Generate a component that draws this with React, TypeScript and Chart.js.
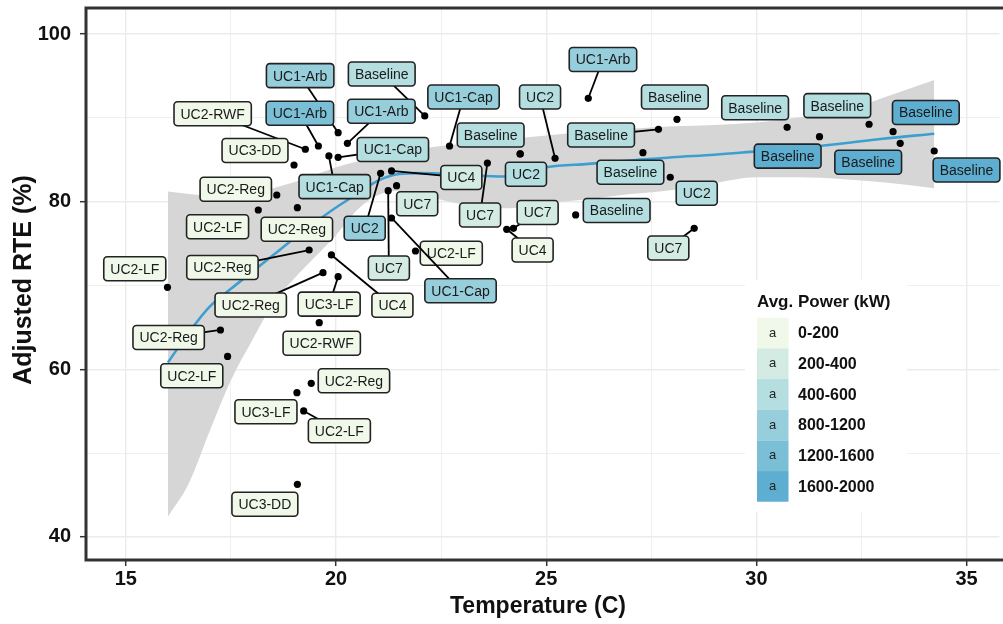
import React, { useEffect, useRef } from "react";
import { Chart, registerables } from "chart.js";

Chart.register(...registerables);

const FONT = "'Liberation Sans', Arial, Helvetica, sans-serif";

// ---------- data ----------
const useCase = [
  "Baseline", "UC1-Arb", "UC1-Arb", "UC1-Arb", "UC2-RWF", "UC3-DD", "UC1-Cap", "UC1-Cap",
  "UC1-Cap", "UC2", "UC4", "UC7", "UC7", "UC2-LF", "UC1-Cap", "UC2-Reg",
  "UC2-LF", "UC2-Reg", "UC2-Reg", "UC4", "UC2-Reg", "UC3-LF", "UC2-RWF", "UC2-Reg",
  "UC2-LF", "UC2-LF", "UC2-Reg", "UC3-LF", "UC2-LF", "UC3-DD", "Baseline", "UC2",
  "UC2", "UC1-Arb", "Baseline", "Baseline", "Baseline", "UC2", "UC7", "Baseline",
  "UC7", "UC4", "UC7", "Baseline", "Baseline", "Baseline", "Baseline", "Baseline", "Baseline",
];
const temperature = [
  22.11, 20.05, 20.27, 19.58, 19.27, 19.0, 19.83, 20.05,
  22.7, 21.06, 21.32, 21.44, 21.24, 21.89, 21.32, 18.59,
  18.15, 19.08, 19.36, 19.89, 19.69, 20.05, 19.6, 17.25,
  17.42, 15.99, 19.41, 19.07, 19.23, 19.08, 24.38, 24.38,
  25.21, 26.0, 28.11, 27.67, 27.3, 27.95, 23.6, 25.7,
  24.22, 24.06, 28.52, 30.73, 31.5, 32.68, 33.25, 33.42, 34.23,
];
const adjustedRte = [
  90.22, 88.23, 86.96, 86.64, 86.25, 84.37, 85.45, 85.29,
  86.64, 83.38, 83.66, 81.9, 81.31, 74.11, 78.05, 80.79,
  79.0, 79.28, 74.23, 73.64, 71.53, 71.05, 65.56, 64.69,
  61.53, 69.78, 58.33, 57.21, 55.03, 46.28, 85.69, 85.69,
  85.17, 92.33, 89.82, 88.63, 85.84, 82.91, 84.61, 78.41,
  76.82, 76.7, 76.82, 88.87, 87.75, 89.23, 88.35, 86.96, 86.04,
];
// index into powerClasses
const powerClass = [
  2, 3, 3, 4, 0, 0, 2, 2,
  3, 3, 1, 1, 1, 0, 3, 0,
  0, 0, 0, 0, 0, 0, 0, 0,
  0, 0, 0, 0, 0, 0, 2, 2,
  2, 3, 2, 2, 2, 2, 1, 2,
  1, 0, 1, 2, 5, 2, 5, 5, 5,
];
const powerClasses = ["0-200", "200-400", "400-600", "800-1200", "1200-1600", "1600-2000"];

// loess fit and confidence band
const smoothTemp = [16.0, 16.5, 17.0, 17.5, 18.0, 18.5, 19.0, 19.5, 20.0, 20.5, 21.0, 21.5, 22.0, 23.0, 24.0, 24.5, 25.0, 26.0, 27.0, 28.0, 29.0, 30.0, 31.0, 32.0, 33.0, 34.23];
const smoothFit = [60.8, 64.4, 67.5, 69.6, 71.6, 73.6, 75.6, 77.5, 79.3, 80.9, 82.5, 83.3, 83.4, 83.2, 83.0, 83.5, 84.1, 84.5, 84.9, 85.3, 85.6, 86.0, 86.4, 86.9, 87.5, 88.1];
const bandUpper = [81.2, 80.9, 80.7, 80.6, 80.9, 81.6, 82.3, 83.2, 84.1, 84.8, 85.4, 85.9, 86.3, 86.9, 87.4, 87.65, 87.9, 88.3, 88.7, 89.0, 89.15, 89.45, 90.05, 90.7, 92.35, 94.5];
const bandLower = [42.4, 46.4, 52.7, 58.7, 63.4, 67.8, 70.8, 73.4, 76.0, 79.0, 80.8, 81.3, 80.8, 79.7, 79.2, 79.4, 79.8, 80.3, 80.9, 81.4, 82.2, 82.9, 82.9, 82.7, 82.3, 81.6];

const yTicksShown = [40, 60, 80, 100];
const xTicksShown = [15, 20, 25, 30, 35];

// ---------- style / layout (label placement in px, relative to its point) ----------
const classColors = ["#f0f8e9", "#d3ebe2", "#b4dee0", "#97cedb", "#7bbfd6", "#5daed1"];
const labelNudge: [number, number, boolean][] = [
  [-43, -42, true], [-38, -57, true], [34, -32, true], [-18.5, -32.7, true], [-92.7, -35.5, true], [-39, -14.5, false], [5.8, 30.7, true], [54.7, -7.8, true],
  [14, -49, true], [-15.9, 55, true], [69.8, 6.5, true], [20.6, 18, false], [0.7, 77.3, true], [35.8, 2.3, false], [69, 72.8, true], [-41, -5.8, false],
  [-40.7, 16.7, false], [-0.5, 21.5, false], [-86.7, 17.5, true], [61, 50.3, true], [-72.3, 32.3, true], [-9, 27.5, true], [2.5, 20.6, false], [-51.8, 7.5, true],
  [-35.8, 19.3, false], [-32.7, -18.6, false], [42.7, -2.5, false], [-31, 19, false], [35.7, 19.8, true], [-32.5, 19.9, false], [-29.5, -19, false], [5.8, 20.3, false],
  [-15, -61.3, true], [14.7, -38.8, true], [-2.1, -22.3, false], [-57.4, 5.7, true], [-12.5, 19.5, false], [26.5, 16, false], [-7.3, 52, true], [41, -4.5, false],
  [24.2, -15.8, true], [25.9, 20.7, true], [-25.9, 19.7, true], [-32, -19.5, false], [-31.8, 19.5, false], [-31.8, -18.6, false], [32.8, -19.2, false], [-32, 18.9, false], [32.3, 19, false],
];

const isMultiple = (v: number, m: number) => Math.abs(v / m - Math.round(v / m)) < 1e-6;

const overlayPlugin = {
  id: "overlay",
  afterDatasetsDraw(chart: any) {
    const { ctx, chartArea: ca } = chart;
    const xs = chart.scales.x;
    const ys = chart.scales.y;
    ctx.save();
    // panel border
    ctx.strokeStyle = "#333333";
    ctx.lineWidth = 3;
    ctx.strokeRect(ca.left, ca.top, ca.right - ca.left + 6, ca.bottom - ca.top);

    // repelled labels
    ctx.font = `14px ${FONT}`;
    for (let i = 0; i < useCase.length; i++) {
      const px = xs.getPixelForValue(temperature[i]);
      const py = ys.getPixelForValue(adjustedRte[i]);
      const [dx, dy, seg] = labelNudge[i];
      const cx = px + dx;
      const cy = py + dy;
      const w = ctx.measureText(useCase[i]).width + 13;
      const h = 24;
      if (seg) {
        ctx.beginPath();
        ctx.strokeStyle = "#000";
        ctx.lineWidth = 1.8;
        ctx.moveTo(px, py);
        ctx.lineTo(cx, cy);
        ctx.stroke();
      }
      ctx.beginPath();
      ctx.roundRect(cx - w / 2, cy - h / 2, w, h, 3.5);
      ctx.fillStyle = classColors[powerClass[i]];
      ctx.fill();
      ctx.lineWidth = 1.6;
      ctx.strokeStyle = "#222";
      ctx.stroke();
      ctx.fillStyle = "#1a1a1a";
      ctx.textAlign = "center";
      ctx.textBaseline = "middle";
      ctx.fillText(useCase[i], cx, cy + 1);
    }

    // legend
    const lx = 745, ly = 280;
    ctx.fillStyle = "#ffffff";
    ctx.fillRect(lx, ly, 162, 232);
    ctx.fillStyle = "#111";
    ctx.textAlign = "left";
    ctx.textBaseline = "alphabetic";
    ctx.font = `bold 17px ${FONT}`;
    ctx.fillText("Avg. Power (kW)", 757, 307);
    const keyTop = 317.7, keyH = 30.67;
    for (let k = 0; k < powerClasses.length; k++) {
      const ky = keyTop + k * keyH;
      ctx.fillStyle = classColors[k];
      ctx.fillRect(757, ky, 31.5, keyH);
      ctx.fillStyle = "#222";
      ctx.font = `13px ${FONT}`;
      ctx.textAlign = "center";
      ctx.textBaseline = "middle";
      ctx.fillText("a", 772.7, ky + keyH / 2);
      ctx.fillStyle = "#111";
      ctx.font = `bold 16px ${FONT}`;
      ctx.textAlign = "left";
      ctx.fillText(powerClasses[k], 798, ky + keyH / 2 + 1);
    }
    ctx.restore();
  },
  afterDraw(chart: any) {
    const { ctx } = chart;
    ctx.save();
    ctx.fillStyle = "#111";
    ctx.font = `bold 23px ${FONT}`;
    ctx.textAlign = "center";
    ctx.textBaseline = "middle";
    ctx.fillText("Temperature (C)", 538, 607);
    ctx.font = `bold 25px ${FONT}`;
    ctx.translate(24, 280);
    ctx.rotate(-Math.PI / 2);
    ctx.fillText("Adjusted RTE (%)", 0, 0);
    ctx.restore();
  },
};

export default function App() {
  const canvasRef = useRef<HTMLCanvasElement | null>(null);

  useEffect(() => {
    if (!canvasRef.current) return;
    const points = temperature.map((t, i) => ({ x: t, y: adjustedRte[i] }));
    const fit = smoothTemp.map((t, i) => ({ x: t, y: smoothFit[i] }));
    const lower = smoothTemp.map((t, i) => ({ x: t, y: bandLower[i] }));
    const upper = smoothTemp.map((t, i) => ({ x: t, y: bandUpper[i] }));

    const chart = new Chart(canvasRef.current, {
      type: "scatter",
      data: {
        datasets: [
          {
            type: "scatter",
            data: points,
            pointRadius: 3.6,
            pointHoverRadius: 3.6,
            pointBackgroundColor: "#000",
            pointBorderWidth: 0,
            order: 0,
          } as any,
          {
            type: "line",
            data: fit,
            borderColor: "#3c9fd0",
            borderWidth: 2.6,
            pointRadius: 0,
            cubicInterpolationMode: "monotone",
            fill: false,
            order: 1,
          } as any,
          {
            type: "line",
            data: lower,
            borderWidth: 0,
            borderColor: "rgba(0,0,0,0)",
            pointRadius: 0,
            cubicInterpolationMode: "monotone",
            fill: false,
            order: 3,
          } as any,
          {
            type: "line",
            data: upper,
            borderWidth: 0,
            borderColor: "rgba(0,0,0,0)",
            backgroundColor: "#d6d6d6",
            pointRadius: 0,
            cubicInterpolationMode: "monotone",
            fill: "-1",
            order: 2,
          } as any,
        ],
      },
      options: {
        responsive: false,
        animation: false,
        events: [],
        layout: { padding: { top: 8, right: 0, left: 0, bottom: 0 } },
        plugins: { legend: { display: false }, tooltip: { enabled: false } },
        scales: {
          x: {
            type: "linear",
            min: 14.052,
            max: 35.78,
            afterFit: (s: any) => {
              s.height = 64;
              s.paddingLeft = 0;
              s.paddingRight = 0;
              s.paddingTop = 0;
              s.paddingBottom = 0;
            },
            border: { display: false },
            grid: {
              color: "#ebebeb",
              lineWidth: (c: any) => (c.tick && isMultiple(c.tick.value, 5) ? 1.4 : 0.8),
              tickColor: (c: any) => (c.tick && isMultiple(c.tick.value, 5) ? "#333" : "rgba(0,0,0,0)"),
              tickLength: 6,
              tickWidth: 1.5,
            },
            ticks: {
              stepSize: 2.5,
              includeBounds: false,
              autoSkip: false,
              maxRotation: 0,
              padding: 1,
              color: "#111",
              font: { family: FONT, size: 20, weight: "bold" },
              callback: (v: any) => (xTicksShown.includes(Number(v)) ? String(v) : ""),
            },
          },
          y: {
            type: "linear",
            min: 37.25,
            max: 103.1,
            afterFit: (s: any) => {
              s.width = 86;
              s.paddingLeft = 0;
              s.paddingRight = 0;
              s.paddingTop = 0;
              s.paddingBottom = 0;
            },
            border: { display: false },
            grid: {
              color: "#ebebeb",
              lineWidth: (c: any) => (c.tick && isMultiple(c.tick.value, 20) ? 1.4 : 0.8),
              tickColor: (c: any) => (c.tick && isMultiple(c.tick.value, 20) ? "#333" : "rgba(0,0,0,0)"),
              tickLength: 6,
              tickWidth: 1.5,
            },
            ticks: {
              stepSize: 10,
              includeBounds: false,
              autoSkip: false,
              padding: 9,
              color: "#111",
              font: { family: FONT, size: 20, weight: "bold" },
              callback: (v: any) => (yTicksShown.includes(Number(v)) ? String(v) : ""),
            },
          },
        },
      },
      plugins: [overlayPlugin],
    });
    return () => chart.destroy();
  }, []);

  return (
    <div style={{ position: "absolute", left: 0, top: 0, width: 1003, height: 624, background: "#fff" }}>
      <canvas ref={canvasRef} width={1003} height={624} style={{ width: 1003, height: 624, display: "block" }} />
    </div>
  );
}
